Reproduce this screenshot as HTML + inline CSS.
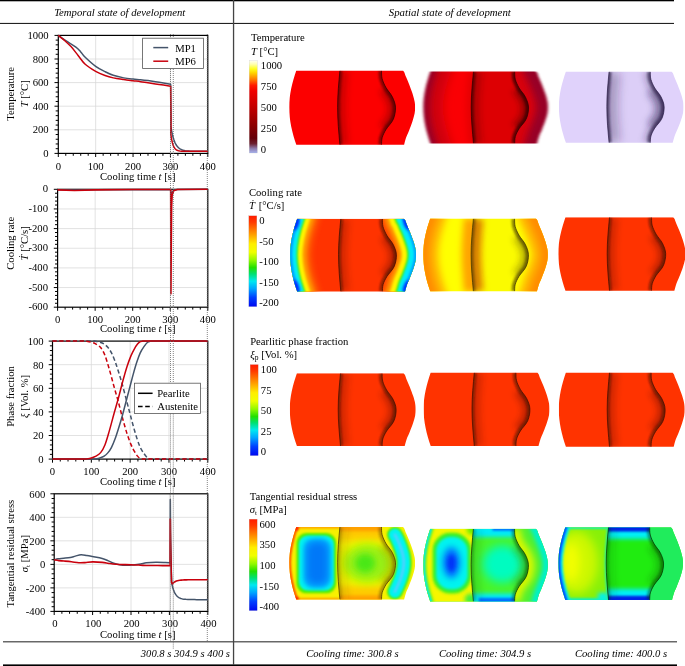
<!DOCTYPE html>
<html lang="en"><head><meta charset="utf-8"><title>State of development</title>
<style>
html,body{margin:0;padding:0;background:#fff;}
svg{display:block;}
text{font-family:"Liberation Serif","DejaVu Serif",serif;fill:#000;}
</style></head><body>
<svg width="685" height="666" viewBox="0 0 685 666">
<rect width="685" height="666" fill="#fff"/>
<rect x="0" y="0" width="674" height="1.3" fill="#000"/>
<rect x="0" y="22.9" width="674" height="1.1" fill="#222"/>
<rect x="3" y="641.2" width="674" height="1.2" fill="#444"/>
<rect x="3" y="664.4" width="674" height="1.6" fill="#000"/>
<rect x="232.9" y="0" width="1.3" height="665" fill="#444"/>
<text x="119.7" y="16.3" text-anchor="middle" font-style="italic" font-size="10.7">Temporal state of development</text>
<text x="449.8" y="16" text-anchor="middle" font-style="italic" font-size="10.8">Spatial state of development</text>
<text x="140.8" y="656.8" font-style="italic" font-size="10.6" xml:space="preserve">300.8 s 304.9 s 400 s</text>
<text x="306.2" y="657" font-style="italic" font-size="10.67">Cooling time: 300.8 s</text>
<text x="438.9" y="657" font-style="italic" font-size="10.67">Cooling time: 304.9 s</text>
<text x="574.9" y="657" font-style="italic" font-size="10.67">Cooling time: 400.0 s</text>
<path d="M95.67 35.4V153.4M133.05 35.4V153.4M170.43 35.4V153.4M58.3 129.8H207.8M58.3 106.2H207.8M58.3 82.6H207.8M58.3 59H207.8" stroke="#d8d8d8" stroke-width="0.75" fill="none"/>
<path d="M58.3 153.4v3.6M65.77 153.4v2.4M73.25 153.4v2.4M80.72 153.4v2.4M88.2 153.4v2.4M95.67 153.4v3.6M103.15 153.4v2.4M110.62 153.4v2.4M118.1 153.4v2.4M125.58 153.4v2.4M133.05 153.4v3.6M140.53 153.4v2.4M148 153.4v2.4M155.47 153.4v2.4M162.95 153.4v2.4M170.43 153.4v3.6M177.9 153.4v2.4M185.38 153.4v2.4M192.85 153.4v2.4M200.32 153.4v2.4M207.8 153.4v3.6M58.3 153.4h-3.8M58.3 148.68h-2.6M58.3 143.96h-2.6M58.3 139.24h-2.6M58.3 134.52h-2.6M58.3 129.8h-3.8M58.3 125.08h-2.6M58.3 120.36h-2.6M58.3 115.64h-2.6M58.3 110.92h-2.6M58.3 106.2h-3.8M58.3 101.48h-2.6M58.3 96.76h-2.6M58.3 92.04h-2.6M58.3 87.32h-2.6M58.3 82.6h-3.8M58.3 77.88h-2.6M58.3 73.16h-2.6M58.3 68.44h-2.6M58.3 63.72h-2.6M58.3 59h-3.8M58.3 54.28h-2.6M58.3 49.56h-2.6M58.3 44.84h-2.6M58.3 40.12h-2.6M58.3 35.4h-3.8" stroke="#000" stroke-width="1" fill="none"/>
<rect x="58.3" y="35.4" width="149.5" height="118" fill="none" stroke="#000" stroke-width="1.2"/>
<text x="58.3" y="169.7" text-anchor="middle" font-size="10.67">0</text>
<text x="95.67" y="169.7" text-anchor="middle" font-size="10.67">100</text>
<text x="133.05" y="169.7" text-anchor="middle" font-size="10.67">200</text>
<text x="170.43" y="169.7" text-anchor="middle" font-size="10.67">300</text>
<text x="207.8" y="169.7" text-anchor="middle" font-size="10.67">400</text>
<text x="48.7" y="156.9" text-anchor="end" font-size="10.67">0</text>
<text x="48.7" y="133.3" text-anchor="end" font-size="10.67">200</text>
<text x="48.7" y="109.7" text-anchor="end" font-size="10.67">400</text>
<text x="48.7" y="86.1" text-anchor="end" font-size="10.67">600</text>
<text x="48.7" y="62.5" text-anchor="end" font-size="10.67">800</text>
<text x="48.7" y="38.9" text-anchor="end" font-size="10.67">1000</text>
<text x="100" y="179.8" font-size="10.67">Cooling time <tspan font-style="italic">t</tspan> [s]</text>
<text transform="translate(14.2 93.8) rotate(-90)" text-anchor="middle" font-size="10.67">Temperature</text>
<text transform="translate(27.7 93.8) rotate(-90)" text-anchor="middle" font-size="10.67"><tspan font-style="italic">T</tspan> [°C]</text>
<path d="M58.3 35.4C59.55 36.29 62.85 38.74 65.77 40.71C68.7 42.68 73.37 45.33 75.87 47.2C78.36 49.07 79.17 50.25 80.72 51.92C82.28 53.59 82.72 54.83 85.21 57.23C87.7 59.63 92.37 63.92 95.67 66.32C98.98 68.72 102.09 70.13 105.02 71.63C107.95 73.12 110.13 74.24 113.24 75.28C116.36 76.33 120.4 77.25 123.71 77.88C127.01 78.51 130.25 78.77 133.05 79.06C135.85 79.36 138.03 79.39 140.53 79.65C143.02 79.91 144.89 80.14 148 80.59C151.11 81.05 155.46 81.75 159.21 82.36C162.97 82.97 168.65 83.94 170.54 84.25L170.65 84.25L170.76 96.17L170.99 118.59L170.72 125.67L170.79 126.09L170.98 127.3L171.3 129.18L171.75 131.58L172.33 134.28L173.04 137.09L173.88 139.81L174.84 142.31L175.94 144.49L177.16 146.31L178.51 147.76L179.99 148.86L181.6 149.67L183.34 150.25L185.21 150.64L187.2 150.89L189.33 151.05L191.58 151.15L193.96 151.21L196.47 151.24L199.11 151.26L201.88 151.27L204.77 151.27L207.8 151.27" stroke="#44546a" stroke-width="1.5" fill="none" stroke-linejoin="round"/>
<path d="M58.3 35.4C59.23 36.15 61.79 38.02 63.91 39.88C66.02 41.75 68.64 44.01 71.01 46.61C73.37 49.21 75.74 52.51 78.11 55.46C80.48 58.41 82.28 61.66 85.21 64.31C88.14 66.97 92.37 69.52 95.67 71.39C98.98 73.26 102.09 74.44 105.02 75.52C107.95 76.6 110.13 77.21 113.24 77.88C116.36 78.55 120.4 79.06 123.71 79.53C127.01 80 130.25 80.36 133.05 80.71C135.85 81.07 138.03 81.3 140.53 81.66C143.02 82.01 144.89 82.36 148 82.84C151.11 83.31 155.46 83.94 159.21 84.49C162.97 85.04 168.65 85.86 170.54 86.14L170.65 86.14L170.76 103.84L170.99 126.26L170.72 133.34L170.79 133.85L170.98 135.29L171.3 137.42L171.75 139.94L172.33 142.52L173.04 144.89L173.88 146.88L174.84 148.42L175.94 149.52L177.16 150.26L178.51 150.72L179.99 150.99L181.6 151.14L183.34 151.21L185.21 151.25L187.2 151.26L189.33 151.27L191.58 151.27L193.96 151.28L196.47 151.28L199.11 151.28L201.88 151.28L204.77 151.28L207.8 151.28" stroke="#c9000c" stroke-width="1.5" fill="none" stroke-linejoin="round"/>
<rect x="142.6" y="38.2" width="60.8" height="30.3" fill="#fff" stroke="#555" stroke-width="0.8"/>
<path d="M153.3 47.6H168.2" stroke="#44546a" stroke-width="1.5"/>
<path d="M153.3 61.2H168.2" stroke="#c9000c" stroke-width="1.5"/>
<text x="175.2" y="51.6" font-size="10.67">MP1</text>
<text x="175.2" y="64.8" font-size="10.67">MP6</text>
<path d="M95.15 189.3V307.2M132.7 189.3V307.2M170.25 189.3V307.2M57.6 287.55H207.8M57.6 267.9H207.8M57.6 248.25H207.8M57.6 228.6H207.8M57.6 208.95H207.8" stroke="#d8d8d8" stroke-width="0.75" fill="none"/>
<path d="M57.6 307.2v3.6M65.11 307.2v2.4M72.62 307.2v2.4M80.13 307.2v2.4M87.64 307.2v2.4M95.15 307.2v3.6M102.66 307.2v2.4M110.17 307.2v2.4M117.68 307.2v2.4M125.19 307.2v2.4M132.7 307.2v3.6M140.21 307.2v2.4M147.72 307.2v2.4M155.23 307.2v2.4M162.74 307.2v2.4M170.25 307.2v3.6M177.76 307.2v2.4M185.27 307.2v2.4M192.78 307.2v2.4M200.29 307.2v2.4M207.8 307.2v3.6M57.6 307.2h-3.8M57.6 303.27h-2.6M57.6 299.34h-2.6M57.6 295.41h-2.6M57.6 291.48h-2.6M57.6 287.55h-3.8M57.6 283.62h-2.6M57.6 279.69h-2.6M57.6 275.76h-2.6M57.6 271.83h-2.6M57.6 267.9h-3.8M57.6 263.97h-2.6M57.6 260.04h-2.6M57.6 256.11h-2.6M57.6 252.18h-2.6M57.6 248.25h-3.8M57.6 244.32h-2.6M57.6 240.39h-2.6M57.6 236.46h-2.6M57.6 232.53h-2.6M57.6 228.6h-3.8M57.6 224.67h-2.6M57.6 220.74h-2.6M57.6 216.81h-2.6M57.6 212.88h-2.6M57.6 208.95h-3.8M57.6 205.02h-2.6M57.6 201.09h-2.6M57.6 197.16h-2.6M57.6 193.23h-2.6M57.6 189.3h-3.8" stroke="#000" stroke-width="1" fill="none"/>
<rect x="57.6" y="189.3" width="150.2" height="117.9" fill="none" stroke="#000" stroke-width="1.2"/>
<text x="57.6" y="322.9" text-anchor="middle" font-size="10.67">0</text>
<text x="95.15" y="322.9" text-anchor="middle" font-size="10.67">100</text>
<text x="132.7" y="322.9" text-anchor="middle" font-size="10.67">200</text>
<text x="170.25" y="322.9" text-anchor="middle" font-size="10.67">300</text>
<text x="207.8" y="322.9" text-anchor="middle" font-size="10.67">400</text>
<text x="48" y="310.3" text-anchor="end" font-size="10.67">-600</text>
<text x="48" y="290.65" text-anchor="end" font-size="10.67">-500</text>
<text x="48" y="271" text-anchor="end" font-size="10.67">-400</text>
<text x="48" y="251.35" text-anchor="end" font-size="10.67">-300</text>
<text x="48" y="231.7" text-anchor="end" font-size="10.67">-200</text>
<text x="48" y="212.05" text-anchor="end" font-size="10.67">-100</text>
<text x="48" y="192.4" text-anchor="end" font-size="10.67">0</text>
<text x="100" y="332.3" font-size="10.67">Cooling time <tspan font-style="italic">t</tspan> [s]</text>
<text transform="translate(14.2 243.3) rotate(-90)" text-anchor="middle" font-size="10.67">Cooling rate</text>
<text transform="translate(27.7 243.3) rotate(-90)" text-anchor="middle" font-size="10.67"><tspan font-style="italic">Ṫ</tspan> [°C/s]</text>
<path d="M57.6 189.69L76.38 190.09L95.15 189.69L170.7 189.5L170.85 212.88L171.08 201.09L171.75 192.84L173.63 190.09L177.76 189.5L207.8 189.3" stroke="#44546a" stroke-width="1.5" fill="none" stroke-linejoin="round"/>
<path d="M57.6 189.89L74.5 190.48L95.15 189.89L132.7 189.5L170.7 189.5L170.93 293.84L171.23 248.25L171.6 206.99L172.13 195.2L173.63 190.87L177.38 189.5L207.8 189.3" stroke="#c9000c" stroke-width="1.6" fill="none" stroke-linejoin="round"/>
<path d="M91.33 341.1V459.1M130.15 341.1V459.1M168.98 341.1V459.1M52.5 435.5H207.8M52.5 411.9H207.8M52.5 388.3H207.8M52.5 364.7H207.8" stroke="#d8d8d8" stroke-width="0.75" fill="none"/>
<path d="M52.5 459.1v3.6M60.27 459.1v2.4M68.03 459.1v2.4M75.8 459.1v2.4M83.56 459.1v2.4M91.33 459.1v3.6M99.09 459.1v2.4M106.86 459.1v2.4M114.62 459.1v2.4M122.39 459.1v2.4M130.15 459.1v3.6M137.92 459.1v2.4M145.68 459.1v2.4M153.44 459.1v2.4M161.21 459.1v2.4M168.98 459.1v3.6M176.74 459.1v2.4M184.5 459.1v2.4M192.27 459.1v2.4M200.03 459.1v2.4M207.8 459.1v3.6M52.5 459.1h-3.8M52.5 454.38h-2.6M52.5 449.66h-2.6M52.5 444.94h-2.6M52.5 440.22h-2.6M52.5 435.5h-3.8M52.5 430.78h-2.6M52.5 426.06h-2.6M52.5 421.34h-2.6M52.5 416.62h-2.6M52.5 411.9h-3.8M52.5 407.18h-2.6M52.5 402.46h-2.6M52.5 397.74h-2.6M52.5 393.02h-2.6M52.5 388.3h-3.8M52.5 383.58h-2.6M52.5 378.86h-2.6M52.5 374.14h-2.6M52.5 369.42h-2.6M52.5 364.7h-3.8M52.5 359.98h-2.6M52.5 355.26h-2.6M52.5 350.54h-2.6M52.5 345.82h-2.6M52.5 341.1h-3.8" stroke="#000" stroke-width="1" fill="none"/>
<rect x="52.5" y="341.1" width="155.3" height="118" fill="none" stroke="#000" stroke-width="1.2"/>
<text x="52.5" y="475.2" text-anchor="middle" font-size="10.67">0</text>
<text x="91.33" y="475.2" text-anchor="middle" font-size="10.67">100</text>
<text x="130.15" y="475.2" text-anchor="middle" font-size="10.67">200</text>
<text x="168.98" y="475.2" text-anchor="middle" font-size="10.67">300</text>
<text x="207.8" y="475.2" text-anchor="middle" font-size="10.67">400</text>
<text x="43.7" y="462.9" text-anchor="end" font-size="10.67">0</text>
<text x="43.7" y="439.3" text-anchor="end" font-size="10.67">20</text>
<text x="43.7" y="415.7" text-anchor="end" font-size="10.67">40</text>
<text x="43.7" y="392.1" text-anchor="end" font-size="10.67">60</text>
<text x="43.7" y="368.5" text-anchor="end" font-size="10.67">80</text>
<text x="43.7" y="344.9" text-anchor="end" font-size="10.67">100</text>
<text x="100" y="485.2" font-size="10.67">Cooling time <tspan font-style="italic">t</tspan> [s]</text>
<text transform="translate(14.2 396.5) rotate(-90)" text-anchor="middle" font-size="10.67">Phase fraction</text>
<text transform="translate(27.7 396.5) rotate(-90)" text-anchor="middle" font-size="10.67"><tspan font-style="italic">ξ</tspan> [Vol. %]</text>
<path d="M52.5 341.1L94.43 341.1C95.34 341.3 98.25 341.79 99.87 342.28C101.48 342.77 102.78 343.17 104.14 344.05C105.5 344.94 106.79 346.12 108.02 347.59C109.25 349.07 110.35 350.64 111.51 352.9C112.68 355.16 113.84 358.01 115.01 361.16C116.17 364.31 117.27 367.85 118.5 371.78C119.73 375.71 120.96 379.65 122.39 384.76C123.81 389.87 125.75 397.54 127.04 402.46C128.34 407.38 129.11 410.33 130.15 414.26C131.19 418.19 132.16 422.13 133.26 426.06C134.36 429.99 135.59 434.32 136.75 437.86C137.91 441.4 139.02 444.64 140.24 447.3C141.47 449.96 142.9 452.02 144.13 453.79C145.36 455.56 146.52 457.04 147.62 457.92C148.72 458.81 150.21 458.9 150.73 459.1L207.8 459.1" stroke="#44546a" stroke-width="1.5" fill="none" stroke-linejoin="round" stroke-dasharray="4.2 2.6"/>
<path d="M52.5 341.1L85.5 341.1C86.47 341.3 89.58 341.79 91.33 342.28C93.07 342.77 94.43 343.17 95.98 344.05C97.54 344.94 99.15 345.72 100.64 347.59C102.13 349.46 103.49 351.72 104.91 355.26C106.34 358.8 107.7 363.72 109.18 368.83C110.67 373.94 112.29 380.34 113.84 385.94C115.4 391.55 117.01 396.95 118.5 402.46C119.99 407.97 121.35 413.77 122.77 418.98C124.2 424.19 125.69 429.5 127.04 433.73C128.4 437.96 129.7 441.4 130.93 444.35C132.16 447.3 133.32 449.46 134.42 451.43C135.52 453.4 136.56 454.95 137.53 456.15C138.5 457.35 139.4 458.14 140.24 458.63C141.09 459.12 142.19 459.02 142.57 459.1L207.8 459.1" stroke="#c9000c" stroke-width="1.5" fill="none" stroke-linejoin="round" stroke-dasharray="4.2 2.6"/>
<path d="M52.5 459.1L94.43 459.1C95.34 458.9 98.25 458.41 99.87 457.92C101.48 457.43 102.78 457.04 104.14 456.15C105.5 455.27 106.79 454.09 108.02 452.61C109.25 451.13 110.35 449.56 111.51 447.3C112.68 445.04 113.84 442.19 115.01 439.04C116.17 435.89 117.27 432.35 118.5 428.42C119.73 424.49 120.96 420.55 122.39 415.44C123.81 410.33 125.75 402.66 127.04 397.74C128.34 392.82 129.11 389.87 130.15 385.94C131.19 382.01 132.16 378.07 133.26 374.14C134.36 370.21 135.59 365.88 136.75 362.34C137.91 358.8 139.02 355.56 140.24 352.9C141.47 350.25 142.9 348.18 144.13 346.41C145.36 344.64 146.52 343.17 147.62 342.28C148.72 341.4 150.21 341.3 150.73 341.1L207.8 341.1" stroke="#44546a" stroke-width="1.5" fill="none" stroke-linejoin="round"/>
<path d="M52.5 459.1L85.5 459.1C86.47 458.9 89.58 458.41 91.33 457.92C93.07 457.43 94.43 457.04 95.98 456.15C97.54 455.27 99.15 454.48 100.64 452.61C102.13 450.74 103.49 448.48 104.91 444.94C106.34 441.4 107.7 436.48 109.18 431.37C110.67 426.26 112.29 419.87 113.84 414.26C115.4 408.65 117.01 403.25 118.5 397.74C119.99 392.23 121.35 386.43 122.77 381.22C124.2 376.01 125.69 370.7 127.04 366.47C128.4 362.24 129.7 358.8 130.93 355.85C132.16 352.9 133.32 350.74 134.42 348.77C135.52 346.8 136.56 345.25 137.53 344.05C138.5 342.85 139.4 342.06 140.24 341.57C141.09 341.08 142.19 341.18 142.57 341.1L207.8 341.1" stroke="#c9000c" stroke-width="1.5" fill="none" stroke-linejoin="round"/>
<rect x="134.4" y="383.2" width="66.2" height="30.2" fill="#fff" stroke="#555" stroke-width="0.8"/>
<path d="M138 393.3H152.6" stroke="#000" stroke-width="1.5"/>
<path d="M138 406.6H152.6" stroke="#000" stroke-width="1.5" stroke-dasharray="4.6 2.6"/>
<text x="157.2" y="396.6" font-size="10.67">Pearlite</text>
<text x="157.2" y="409.9" font-size="10.67">Austenite</text>
<path d="M92.6 493.8V611.4M131 493.8V611.4M169.4 493.8V611.4M54.2 587.88H207.8M54.2 564.36H207.8M54.2 540.84H207.8M54.2 517.32H207.8" stroke="#d8d8d8" stroke-width="0.75" fill="none"/>
<path d="M54.2 611.4v3.6M61.88 611.4v2.4M69.56 611.4v2.4M77.24 611.4v2.4M84.92 611.4v2.4M92.6 611.4v3.6M100.28 611.4v2.4M107.96 611.4v2.4M115.64 611.4v2.4M123.32 611.4v2.4M131 611.4v3.6M138.68 611.4v2.4M146.36 611.4v2.4M154.04 611.4v2.4M161.72 611.4v2.4M169.4 611.4v3.6M177.08 611.4v2.4M184.76 611.4v2.4M192.44 611.4v2.4M200.12 611.4v2.4M207.8 611.4v3.6M54.2 611.4h-3.8M54.2 606.7h-2.6M54.2 601.99h-2.6M54.2 597.29h-2.6M54.2 592.58h-2.6M54.2 587.88h-3.8M54.2 583.18h-2.6M54.2 578.47h-2.6M54.2 573.77h-2.6M54.2 569.06h-2.6M54.2 564.36h-3.8M54.2 559.66h-2.6M54.2 554.95h-2.6M54.2 550.25h-2.6M54.2 545.54h-2.6M54.2 540.84h-3.8M54.2 536.14h-2.6M54.2 531.43h-2.6M54.2 526.73h-2.6M54.2 522.02h-2.6M54.2 517.32h-3.8M54.2 512.62h-2.6M54.2 507.91h-2.6M54.2 503.21h-2.6M54.2 498.5h-2.6M54.2 493.8h-3.8" stroke="#000" stroke-width="1" fill="none"/>
<rect x="54.2" y="493.8" width="153.6" height="117.6" fill="none" stroke="#000" stroke-width="1.2"/>
<text x="54.9" y="627.3" text-anchor="middle" font-size="10.67">0</text>
<text x="93.3" y="627.3" text-anchor="middle" font-size="10.67">100</text>
<text x="131.7" y="627.3" text-anchor="middle" font-size="10.67">200</text>
<text x="170.1" y="627.3" text-anchor="middle" font-size="10.67">300</text>
<text x="208.5" y="627.3" text-anchor="middle" font-size="10.67">400</text>
<text x="45.3" y="615.3" text-anchor="end" font-size="10.67">-400</text>
<text x="45.3" y="591.78" text-anchor="end" font-size="10.67">-200</text>
<text x="45.3" y="568.26" text-anchor="end" font-size="10.67">0</text>
<text x="45.3" y="544.74" text-anchor="end" font-size="10.67">200</text>
<text x="45.3" y="521.22" text-anchor="end" font-size="10.67">400</text>
<text x="45.3" y="497.7" text-anchor="end" font-size="10.67">600</text>
<text x="100" y="637.9" font-size="10.67">Cooling time <tspan font-style="italic">t</tspan> [s]</text>
<text transform="translate(14.2 553.6) rotate(-90)" text-anchor="middle" font-size="10.67">Tangential residual stress</text>
<text transform="translate(27.7 553.6) rotate(-90)" text-anchor="middle" font-size="10.67"><tspan font-style="italic">σ</tspan><tspan font-size="7" dy="2">t</tspan><tspan dy="-2"> [MPa]</tspan></text>
<path d="M54.2 559.89C54.84 559.7 56.44 558.99 58.04 558.72C59.64 558.44 61.75 558.44 63.8 558.24C65.85 558.05 68.41 557.89 70.33 557.54C72.25 557.19 73.53 556.6 75.32 556.13C77.11 555.66 79.16 554.81 81.08 554.72C83 554.62 84.92 555.23 86.84 555.54C88.76 555.85 90.04 556.11 92.6 556.6C95.16 557.09 99.64 557.81 102.2 558.48C104.76 559.15 106.17 559.85 107.96 560.6C109.75 561.34 111.03 562.26 112.95 562.95C114.87 563.63 117.11 564.32 119.48 564.71C121.85 565.1 124.92 565.26 127.16 565.3C129.4 565.34 130.68 565.16 132.92 564.95C135.16 564.73 138.36 564.36 140.6 564.01C142.84 563.65 143.8 563.13 146.36 562.83C148.92 562.54 152.76 562.3 155.96 562.24C159.16 562.18 163.19 562.4 165.56 562.48C167.93 562.56 169.4 562.67 170.17 562.71L170.32 499.44L170.55 531.9L171.32 571.42L171.82 583.76L171.88 584.05L172.07 584.87L172.38 586.15L172.82 587.75L173.38 589.54L174.07 591.36L174.88 593.09L175.82 594.65L176.88 595.97L178.07 597.04L179.38 597.86L180.81 598.46L182.38 598.89L184.06 599.18L185.87 599.37L187.81 599.48L189.87 599.55L192.06 599.59L194.37 599.62L196.81 599.63L199.37 599.63L202.05 599.64L204.86 599.64L207.8 599.64" stroke="#44546a" stroke-width="1.5" fill="none" stroke-linejoin="round"/>
<path d="M54.2 559.89C54.97 560.01 57.14 560.4 58.81 560.6C60.47 560.79 62.07 560.87 64.18 561.07C66.3 561.26 69.05 561.5 71.48 561.77C73.91 562.05 76.54 562.58 78.78 562.71C81.02 562.85 82.62 562.73 84.92 562.6C87.22 562.46 89.72 561.93 92.6 561.89C95.48 561.85 99.64 562.15 102.2 562.36C104.76 562.58 106.17 562.91 107.96 563.18C109.75 563.46 111.03 563.79 112.95 564.01C114.87 564.22 116.47 564.36 119.48 564.48C122.49 564.6 127.48 564.6 131 564.71C134.52 564.83 138.04 565.05 140.6 565.18C143.16 565.32 143.48 565.48 146.36 565.54C149.24 565.59 153.91 565.52 157.88 565.54C161.85 565.56 168.12 565.63 170.17 565.65L170.32 519.08L170.55 541.72L171.44 582L172.4 583.88L172.46 583.81L172.64 583.6L172.95 583.27L173.38 582.86L173.93 582.4L174.61 581.94L175.41 581.49L176.33 581.08L177.37 580.74L178.54 580.46L179.83 580.24L181.25 580.08L182.78 579.97L184.44 579.89L186.23 579.84L188.13 579.81L190.16 579.79L192.31 579.78L194.58 579.77L196.98 579.77L199.5 579.77L202.15 579.77L204.91 579.77L207.8 579.77" stroke="#c9000c" stroke-width="1.6" fill="none" stroke-linejoin="round"/>
<path d="M170.5 34V38M170.5 69V383M170.5 413.6V641.5M207.3 34V641.5M173.3 34V38M173.3 69V383M173.3 413.6V649" stroke="#666" stroke-width="0.8" stroke-dasharray="1 1" fill="none"/>
<defs>
<linearGradient id="gRain" x1="0" y1="0" x2="0" y2="1"><stop offset="0" stop-color="#ff1c00"/><stop offset="0.07" stop-color="#ff3a00"/><stop offset="0.2" stop-color="#ff9a00"/><stop offset="0.31" stop-color="#ffee00"/><stop offset="0.4" stop-color="#f0ff00"/><stop offset="0.49" stop-color="#90f800"/><stop offset="0.57" stop-color="#22e000"/><stop offset="0.64" stop-color="#00e070"/><stop offset="0.72" stop-color="#00e8f0"/><stop offset="0.8" stop-color="#00a8ff"/><stop offset="0.9" stop-color="#0040ff"/><stop offset="1" stop-color="#0008f0"/></linearGradient>
<linearGradient id="gHot" x1="0" y1="0" x2="0" y2="1"><stop offset="0" stop-color="#fffff4"/><stop offset="0.04" stop-color="#ffffb0"/><stop offset="0.09" stop-color="#ffff20"/><stop offset="0.13" stop-color="#ffd800"/><stop offset="0.2" stop-color="#ff8000"/><stop offset="0.27" stop-color="#ff1800"/><stop offset="0.33" stop-color="#f00000"/><stop offset="0.5" stop-color="#c40000"/><stop offset="0.7" stop-color="#8c0000"/><stop offset="0.84" stop-color="#640008"/><stop offset="0.9" stop-color="#6c2030"/><stop offset="0.95" stop-color="#8c78a8"/><stop offset="1" stop-color="#a8b4f0"/></linearGradient>
</defs>
<text x="251" y="41.4" font-size="10.67">Temperature</text>
<text x="251" y="54.8" font-size="10.67"><tspan font-style="italic">T</tspan> [°C]</text>
<rect x="249.3" y="60.5" width="8" height="92.5" fill="url(#gHot)" stroke="#999" stroke-opacity="0.5" stroke-width="0.3"/>
<text x="260.8" y="69.1" font-size="10.67">1000</text>
<text x="260.8" y="90.02" font-size="10.67">750</text>
<text x="260.8" y="110.95" font-size="10.67">500</text>
<text x="260.8" y="131.88" font-size="10.67">250</text>
<text x="260.8" y="152.8" font-size="10.67">0</text>
<text x="248.9" y="195.9" font-size="10.67">Cooling rate</text>
<text x="248.9" y="209.3" font-size="10.67"><tspan font-style="italic">Ṫ</tspan><tspan dx="1.3"> [°C/s]</tspan></text>
<rect x="248.8" y="215.8" width="8" height="90.8" fill="url(#gRain)" stroke="#999" stroke-opacity="0.5" stroke-width="0.3"/>
<text x="259.3" y="224.4" font-size="10.67">0</text>
<text x="259.3" y="244.9" font-size="10.67">-50</text>
<text x="259.3" y="265.4" font-size="10.67">-100</text>
<text x="259.3" y="285.9" font-size="10.67">-150</text>
<text x="259.3" y="306.4" font-size="10.67">-200</text>
<text x="250.2" y="344.9" font-size="10.67">Pearlitic phase fraction</text>
<text x="250.2" y="357.7" font-size="10.67"><tspan font-style="italic">ξ</tspan><tspan font-size="7.5" dy="2">p</tspan><tspan dy="-2"> [Vol. %]</tspan></text>
<rect x="250.2" y="364.6" width="8" height="91" fill="url(#gRain)" stroke="#999" stroke-opacity="0.5" stroke-width="0.3"/>
<text x="260.8" y="373.2" font-size="10.67">100</text>
<text x="260.8" y="393.75" font-size="10.67">75</text>
<text x="260.8" y="414.3" font-size="10.67">50</text>
<text x="260.8" y="434.85" font-size="10.67">25</text>
<text x="260.8" y="455.4" font-size="10.67">0</text>
<text x="249.7" y="499.5" font-size="10.67">Tangential residual stress</text>
<text x="249.7" y="512.7" font-size="10.67"><tspan font-style="italic">σ</tspan><tspan font-size="7" dy="2">t</tspan><tspan dy="-2"> [MPa]</tspan></text>
<rect x="249.2" y="519.2" width="8" height="91.4" fill="url(#gRain)" stroke="#999" stroke-opacity="0.5" stroke-width="0.3"/>
<text x="259.5" y="527.8" font-size="10.67">600</text>
<text x="259.5" y="548.45" font-size="10.67">350</text>
<text x="259.5" y="569.1" font-size="10.67">100</text>
<text x="259.5" y="589.75" font-size="10.67">-150</text>
<text x="259.5" y="610.4" font-size="10.67">-400</text>
<defs>
<clipPath id="cShape"><path d="M7.1 0H113.8L115.2 1.8C115.48 2.58 116.12 4.53 116.9 6.5C117.68 8.47 118.83 10.85 119.9 13.6C120.97 16.35 122.38 20.1 123.3 23C124.22 25.9 124.97 28.7 125.4 31C125.83 33.3 125.9 34.8 125.9 36.8C125.9 38.8 125.83 40.7 125.4 43C124.97 45.3 124.22 47.8 123.3 50.6C122.38 53.4 120.97 57.07 119.9 59.8C118.83 62.53 117.73 64.6 116.9 67C116.07 69.4 115.23 73 114.9 74.2H7.1C3 62 0 50 0 36.6C0 24 3 12 7.1 0Z"/></clipPath>
<filter id="bx" filterUnits="userSpaceOnUse" x="-30" y="-30" width="190" height="140"><feGaussianBlur stdDeviation="1.7 0"/></filter>
<mask id="mSoft" maskUnits="userSpaceOnUse" x="-10" y="-10" width="150" height="95"><path d="M7.1 0H113.8L115.2 1.8C115.48 2.58 116.12 4.53 116.9 6.5C117.68 8.47 118.83 10.85 119.9 13.6C120.97 16.35 122.38 20.1 123.3 23C124.22 25.9 124.97 28.7 125.4 31C125.83 33.3 125.9 34.8 125.9 36.8C125.9 38.8 125.83 40.7 125.4 43C124.97 45.3 124.22 47.8 123.3 50.6C122.38 53.4 120.97 57.07 119.9 59.8C118.83 62.53 117.73 64.6 116.9 67C116.07 69.4 115.23 73 114.9 74.2H7.1C3 62 0 50 0 36.6C0 24 3 12 7.1 0Z" fill="#fff" filter="url(#bx)"/></mask>
<clipPath id="cLeft"><path d="M-5 -5H50.7C49.6 12 48.4 24 48.4 36.6C48.4 50 49.6 62 50.7 74.2V80H-5Z"/></clipPath>
<clipPath id="cMid"><path d="M50.7 0C49.6 12 48.4 24 48.4 36.6C48.4 50 49.6 62 50.7 74.2L50.7 80H92.3V74.2C92.42 73 92.25 69.55 93 67C93.75 64.45 94.95 61.95 96.8 58.9C98.65 55.85 102.52 52.42 104.1 48.7C105.68 44.98 106.47 40.35 106.3 36.6C106.13 32.85 104.68 29.47 103.1 26.2C101.52 22.93 98.5 20.03 96.8 17C95.1 13.97 93.65 10.83 92.9 8C92.15 5.17 92.4 1.33 92.3 0V-5H50.7Z"/></clipPath>
<clipPath id="cRight"><path d="M92.3 0C92.4 1.33 92.15 5.17 92.9 8C93.65 10.83 95.1 13.97 96.8 17C98.5 20.03 101.52 22.93 103.1 26.2C104.68 29.47 106.13 32.85 106.3 36.6C106.47 40.35 105.68 44.98 104.1 48.7C102.52 52.42 98.65 55.85 96.8 58.9C94.95 61.95 93.75 64.45 93 67C92.25 69.55 92.42 73 92.3 74.2V80H135V-5H92.3Z"/></clipPath>
<filter id="b1" filterUnits="userSpaceOnUse" x="-30" y="-30" width="190" height="140"><feGaussianBlur stdDeviation="1"/></filter>
<filter id="b15" filterUnits="userSpaceOnUse" x="-30" y="-30" width="190" height="140"><feGaussianBlur stdDeviation="1.4"/></filter>
<filter id="b4" filterUnits="userSpaceOnUse" x="-30" y="-30" width="190" height="140"><feGaussianBlur stdDeviation="4"/></filter>
<filter id="b2" filterUnits="userSpaceOnUse" x="-30" y="-30" width="190" height="140"><feGaussianBlur stdDeviation="2"/></filter>
<filter id="b3" filterUnits="userSpaceOnUse" x="-30" y="-30" width="190" height="140"><feGaussianBlur stdDeviation="3"/></filter>
<filter id="b5" filterUnits="userSpaceOnUse" x="-30" y="-30" width="190" height="140"><feGaussianBlur stdDeviation="5"/></filter>
</defs>
<g transform="translate(289.2 70.6) scale(1 1)"><g clip-path="url(#cShape)"><rect x="-5" y="-5" width="140" height="90" fill="#fc0000"/><g clip-path="url(#cMid)"><path d="M50.7 0C49.6 12 48.4 24 48.4 36.6C48.4 50 49.6 62 50.7 74.2" stroke="#300000" stroke-opacity="0.216" stroke-width="17" fill="none" filter="url(#b3)"/><path d="M50.7 0C49.6 12 48.4 24 48.4 36.6C48.4 50 49.6 62 50.7 74.2" stroke="#300000" stroke-opacity="0.51" stroke-width="5" fill="none" filter="url(#b1)"/><path d="M96.8 17C97.85 18.53 101.52 22.93 103.1 26.2C104.68 29.47 106.13 32.85 106.3 36.6C106.47 40.35 105.68 44.98 104.1 48.7C102.52 52.42 98.02 57.2 96.8 58.9" stroke="#300000" stroke-opacity="0.33" stroke-width="15" fill="none" filter="url(#b3)"/><path d="M92.3 0C92.4 1.33 92.15 5.17 92.9 8C93.65 10.83 95.1 13.97 96.8 17C98.5 20.03 101.52 22.93 103.1 26.2C104.68 29.47 106.13 32.85 106.3 36.6C106.47 40.35 105.68 44.98 104.1 48.7C102.52 52.42 98.65 55.85 96.8 58.9C94.95 61.95 93.75 64.45 93 67C92.25 69.55 92.42 73 92.3 74.2" stroke="#300000" stroke-opacity="0.57" stroke-width="6" fill="none" filter="url(#b1)"/></g><path d="M50.7 0C49.6 12 48.4 24 48.4 36.6C48.4 50 49.6 62 50.7 74.2" stroke="#300000" stroke-opacity="0.8" stroke-width="0.9" fill="none"/><path d="M92.3 0C92.4 1.33 92.15 5.17 92.9 8C93.65 10.83 95.1 13.97 96.8 17C98.5 20.03 101.52 22.93 103.1 26.2C104.68 29.47 106.13 32.85 106.3 36.6C106.47 40.35 105.68 44.98 104.1 48.7C102.52 52.42 98.65 55.85 96.8 58.9C94.95 61.95 93.75 64.45 93 67C92.25 69.55 92.42 73 92.3 74.2" stroke="#300000" stroke-opacity="0.8" stroke-width="0.9" fill="none"/></g></g>
<g transform="translate(423.3 71.5) scale(0.99 0.97)"><g mask="url(#mSoft)"><rect x="-5" y="-5" width="140" height="90" fill="#fa0004"/><g clip-path="url(#cLeft)"><path d="M12 90L7.1 74.2C3 62 0 50 0 36.6C0 24 3 12 7.1 0L12 -16" stroke="#c00010" stroke-opacity="0.75" stroke-width="40" fill="none" filter="url(#b5)"/><path d="M12 90L7.1 74.2C3 62 0 50 0 36.6C0 24 3 12 7.1 0L12 -16" stroke="#980028" stroke-width="13" fill="none" filter="url(#b3)"/><path d="M50.7 0C49.6 12 48.4 24 48.4 36.6C48.4 50 49.6 62 50.7 74.2" stroke="#d00000" stroke-opacity="0.5" stroke-width="10" fill="none" filter="url(#b3)"/></g><g clip-path="url(#cRight)"><rect x="90" y="-5" width="50" height="90" fill="#b00018" fill-opacity="0.45"/><path d="M109 -14L113.8 0L115.2 1.8C115.48 2.58 116.12 4.53 116.9 6.5C117.68 8.47 118.83 10.85 119.9 13.6C120.97 16.35 122.38 20.1 123.3 23C124.22 25.9 124.97 28.7 125.4 31C125.83 33.3 125.9 34.8 125.9 36.8C125.9 38.8 125.83 40.7 125.4 43C124.97 45.3 124.22 47.8 123.3 50.6C122.38 53.4 120.97 57.07 119.9 59.8C118.83 62.53 117.73 64.6 116.9 67C116.07 69.4 115.23 73 114.9 74.2L110 88" stroke="#900028" stroke-opacity="0.9" stroke-width="24" fill="none" filter="url(#b4)"/></g><g clip-path="url(#cMid)"><rect x="40" y="-5" width="80" height="90" fill="#300000" fill-opacity="0.14"/><path d="M50.7 0C49.6 12 48.4 24 48.4 36.6C48.4 50 49.6 62 50.7 74.2" stroke="#300000" stroke-opacity="0.252" stroke-width="17" fill="none" filter="url(#b3)"/><path d="M50.7 0C49.6 12 48.4 24 48.4 36.6C48.4 50 49.6 62 50.7 74.2" stroke="#300000" stroke-opacity="0.595" stroke-width="5" fill="none" filter="url(#b1)"/><path d="M96.8 17C97.85 18.53 101.52 22.93 103.1 26.2C104.68 29.47 106.13 32.85 106.3 36.6C106.47 40.35 105.68 44.98 104.1 48.7C102.52 52.42 98.02 57.2 96.8 58.9" stroke="#300000" stroke-opacity="0.41250000000000003" stroke-width="15" fill="none" filter="url(#b3)"/><path d="M92.3 0C92.4 1.33 92.15 5.17 92.9 8C93.65 10.83 95.1 13.97 96.8 17C98.5 20.03 101.52 22.93 103.1 26.2C104.68 29.47 106.13 32.85 106.3 36.6C106.47 40.35 105.68 44.98 104.1 48.7C102.52 52.42 98.65 55.85 96.8 58.9C94.95 61.95 93.75 64.45 93 67C92.25 69.55 92.42 73 92.3 74.2" stroke="#300000" stroke-opacity="0.7124999999999999" stroke-width="6" fill="none" filter="url(#b1)"/></g><path d="M50.7 0C49.6 12 48.4 24 48.4 36.6C48.4 50 49.6 62 50.7 74.2" stroke="#300000" stroke-opacity="0.8" stroke-width="0.9" fill="none"/><path d="M92.3 0C92.4 1.33 92.15 5.17 92.9 8C93.65 10.83 95.1 13.97 96.8 17C98.5 20.03 101.52 22.93 103.1 26.2C104.68 29.47 106.13 32.85 106.3 36.6C106.47 40.35 105.68 44.98 104.1 48.7C102.52 52.42 98.65 55.85 96.8 58.9C94.95 61.95 93.75 64.45 93 67C92.25 69.55 92.42 73 92.3 74.2" stroke="#300000" stroke-opacity="0.8" stroke-width="0.9" fill="none"/></g></g>
<g transform="translate(558.9 71.6) scale(0.99 0.96)"><g clip-path="url(#cShape)"><rect x="-5" y="-5" width="140" height="90" fill="#e0d2fb"/><g clip-path="url(#cMid)"><rect x="40" y="-5" width="80" height="90" fill="#2c2048" fill-opacity="0.02"/><path d="M50.7 0C49.6 12 48.4 24 48.4 36.6C48.4 50 49.6 62 50.7 74.2" stroke="#2c2048" stroke-opacity="0.306" stroke-width="22.1" fill="none" filter="url(#b5)"/><path d="M50.7 0C49.6 12 48.4 24 48.4 36.6C48.4 50 49.6 62 50.7 74.2" stroke="#2c2048" stroke-opacity="0.7224999999999999" stroke-width="5" fill="none" filter="url(#b1)"/><path d="M96.8 17C97.85 18.53 101.52 22.93 103.1 26.2C104.68 29.47 106.13 32.85 106.3 36.6C106.47 40.35 105.68 44.98 104.1 48.7C102.52 52.42 98.02 57.2 96.8 58.9" stroke="#2c2048" stroke-opacity="0.385" stroke-width="19.5" fill="none" filter="url(#b4)"/><path d="M92.3 0C92.4 1.33 92.15 5.17 92.9 8C93.65 10.83 95.1 13.97 96.8 17C98.5 20.03 101.52 22.93 103.1 26.2C104.68 29.47 106.13 32.85 106.3 36.6C106.47 40.35 105.68 44.98 104.1 48.7C102.52 52.42 98.65 55.85 96.8 58.9C94.95 61.95 93.75 64.45 93 67C92.25 69.55 92.42 73 92.3 74.2" stroke="#2c2048" stroke-opacity="0.27999999999999997" stroke-width="12" fill="none" filter="url(#b3)"/><path d="M92.3 0C92.4 1.33 92.15 5.17 92.9 8C93.65 10.83 95.1 13.97 96.8 17C98.5 20.03 101.52 22.93 103.1 26.2C104.68 29.47 106.13 32.85 106.3 36.6C106.47 40.35 105.68 44.98 104.1 48.7C102.52 52.42 98.65 55.85 96.8 58.9C94.95 61.95 93.75 64.45 93 67C92.25 69.55 92.42 73 92.3 74.2" stroke="#2c2048" stroke-opacity="0.6649999999999999" stroke-width="6" fill="none" filter="url(#b1)"/></g><path d="M50.7 0C49.6 12 48.4 24 48.4 36.6C48.4 50 49.6 62 50.7 74.2" stroke="#2c2048" stroke-opacity="0.8" stroke-width="0.9" fill="none"/><path d="M92.3 0C92.4 1.33 92.15 5.17 92.9 8C93.65 10.83 95.1 13.97 96.8 17C98.5 20.03 101.52 22.93 103.1 26.2C104.68 29.47 106.13 32.85 106.3 36.6C106.47 40.35 105.68 44.98 104.1 48.7C102.52 52.42 98.65 55.85 96.8 58.9C94.95 61.95 93.75 64.45 93 67C92.25 69.55 92.42 73 92.3 74.2" stroke="#2c2048" stroke-opacity="0.8" stroke-width="0.9" fill="none"/></g></g>
<g transform="translate(290.1 218.8) scale(1 0.98)"><g clip-path="url(#cShape)"><rect x="-5" y="-5" width="140" height="90" fill="#ff3300"/><g clip-path="url(#cLeft)"><path d="M12 90L7.1 74.2C3 62 0 50 0 36.6C0 24 3 12 7.1 0L12 -16" stroke="#ff6a00" stroke-width="40" fill="none" filter="url(#b3)"/><path d="M12 90L7.1 74.2C3 62 0 50 0 36.6C0 24 3 12 7.1 0L12 -16" stroke="#ffa800" stroke-width="31" fill="none" filter="url(#b2)"/><path d="M12 90L7.1 74.2C3 62 0 50 0 36.6C0 24 3 12 7.1 0L12 -16" stroke="#fff400" stroke-width="24.4" fill="none" filter="url(#b1)"/><path d="M12 90L7.1 74.2C3 62 0 50 0 36.6C0 24 3 12 7.1 0L12 -16" stroke="#50f000" stroke-width="15.4" fill="none" filter="url(#b1)"/><path d="M12 90L7.1 74.2C3 62 0 50 0 36.6C0 24 3 12 7.1 0L12 -16" stroke="#00ecf8" stroke-width="12.8" fill="none" filter="url(#b1)"/><path d="M12 90L7.1 74.2C3 62 0 50 0 36.6C0 24 3 12 7.1 0L12 -16" stroke="#0098ff" stroke-width="4" fill="none" filter="url(#b1)"/><ellipse cx="5.6" cy="5" rx="3.2" ry="7.5" transform="rotate(18 5.6 5)" fill="#0028ff" filter="url(#b15)"/><ellipse cx="5.6" cy="69.2" rx="3.2" ry="7.5" transform="rotate(-18 5.6 69.2)" fill="#0028ff" filter="url(#b15)"/></g><g clip-path="url(#cRight)"><path d="M109 -14L113.8 0L115.2 1.8C115.48 2.58 116.12 4.53 116.9 6.5C117.68 8.47 118.83 10.85 119.9 13.6C120.97 16.35 122.38 20.1 123.3 23C124.22 25.9 124.97 28.7 125.4 31C125.83 33.3 125.9 34.8 125.9 36.8C125.9 38.8 125.83 40.7 125.4 43C124.97 45.3 124.22 47.8 123.3 50.6C122.38 53.4 120.97 57.07 119.9 59.8C118.83 62.53 117.73 64.6 116.9 67C116.07 69.4 115.23 73 114.9 74.2L110 88" stroke="#ff6a00" stroke-width="42" fill="none" filter="url(#b3)"/><path d="M109 -14L113.8 0L115.2 1.8C115.48 2.58 116.12 4.53 116.9 6.5C117.68 8.47 118.83 10.85 119.9 13.6C120.97 16.35 122.38 20.1 123.3 23C124.22 25.9 124.97 28.7 125.4 31C125.83 33.3 125.9 34.8 125.9 36.8C125.9 38.8 125.83 40.7 125.4 43C124.97 45.3 124.22 47.8 123.3 50.6C122.38 53.4 120.97 57.07 119.9 59.8C118.83 62.53 117.73 64.6 116.9 67C116.07 69.4 115.23 73 114.9 74.2L110 88" stroke="#ffa800" stroke-width="34" fill="none" filter="url(#b2)"/><path d="M109 -14L113.8 0L115.2 1.8C115.48 2.58 116.12 4.53 116.9 6.5C117.68 8.47 118.83 10.85 119.9 13.6C120.97 16.35 122.38 20.1 123.3 23C124.22 25.9 124.97 28.7 125.4 31C125.83 33.3 125.9 34.8 125.9 36.8C125.9 38.8 125.83 40.7 125.4 43C124.97 45.3 124.22 47.8 123.3 50.6C122.38 53.4 120.97 57.07 119.9 59.8C118.83 62.53 117.73 64.6 116.9 67C116.07 69.4 115.23 73 114.9 74.2L110 88" stroke="#fff400" stroke-width="28" fill="none" filter="url(#b1)"/><path d="M109 -14L113.8 0L115.2 1.8C115.48 2.58 116.12 4.53 116.9 6.5C117.68 8.47 118.83 10.85 119.9 13.6C120.97 16.35 122.38 20.1 123.3 23C124.22 25.9 124.97 28.7 125.4 31C125.83 33.3 125.9 34.8 125.9 36.8C125.9 38.8 125.83 40.7 125.4 43C124.97 45.3 124.22 47.8 123.3 50.6C122.38 53.4 120.97 57.07 119.9 59.8C118.83 62.53 117.73 64.6 116.9 67C116.07 69.4 115.23 73 114.9 74.2L110 88" stroke="#50f000" stroke-width="18" fill="none" filter="url(#b1)"/><path d="M109 -14L113.8 0L115.2 1.8C115.48 2.58 116.12 4.53 116.9 6.5C117.68 8.47 118.83 10.85 119.9 13.6C120.97 16.35 122.38 20.1 123.3 23C124.22 25.9 124.97 28.7 125.4 31C125.83 33.3 125.9 34.8 125.9 36.8C125.9 38.8 125.83 40.7 125.4 43C124.97 45.3 124.22 47.8 123.3 50.6C122.38 53.4 120.97 57.07 119.9 59.8C118.83 62.53 117.73 64.6 116.9 67C116.07 69.4 115.23 73 114.9 74.2L110 88" stroke="#00ecf8" stroke-width="14.8" fill="none" filter="url(#b1)"/><path d="M109 -14L113.8 0L115.2 1.8C115.48 2.58 116.12 4.53 116.9 6.5C117.68 8.47 118.83 10.85 119.9 13.6C120.97 16.35 122.38 20.1 123.3 23C124.22 25.9 124.97 28.7 125.4 31C125.83 33.3 125.9 34.8 125.9 36.8C125.9 38.8 125.83 40.7 125.4 43C124.97 45.3 124.22 47.8 123.3 50.6C122.38 53.4 120.97 57.07 119.9 59.8C118.83 62.53 117.73 64.6 116.9 67C116.07 69.4 115.23 73 114.9 74.2L110 88" stroke="#0098ff" stroke-width="3.6" fill="none" filter="url(#b1)"/><ellipse cx="116.6" cy="5" rx="2.8" ry="7" transform="rotate(-22 116.6 5)" fill="#0028ff" filter="url(#b15)"/><ellipse cx="116.4" cy="69.4" rx="2.8" ry="7" transform="rotate(22 116.4 69.4)" fill="#0028ff" filter="url(#b15)"/></g><g clip-path="url(#cMid)"><path d="M50.7 0C49.6 12 48.4 24 48.4 36.6C48.4 50 49.6 62 50.7 74.2" stroke="#401000" stroke-opacity="0.216" stroke-width="17" fill="none" filter="url(#b3)"/><path d="M50.7 0C49.6 12 48.4 24 48.4 36.6C48.4 50 49.6 62 50.7 74.2" stroke="#401000" stroke-opacity="0.51" stroke-width="5" fill="none" filter="url(#b1)"/><path d="M96.8 17C97.85 18.53 101.52 22.93 103.1 26.2C104.68 29.47 106.13 32.85 106.3 36.6C106.47 40.35 105.68 44.98 104.1 48.7C102.52 52.42 98.02 57.2 96.8 58.9" stroke="#401000" stroke-opacity="0.33" stroke-width="15" fill="none" filter="url(#b3)"/><path d="M92.3 0C92.4 1.33 92.15 5.17 92.9 8C93.65 10.83 95.1 13.97 96.8 17C98.5 20.03 101.52 22.93 103.1 26.2C104.68 29.47 106.13 32.85 106.3 36.6C106.47 40.35 105.68 44.98 104.1 48.7C102.52 52.42 98.65 55.85 96.8 58.9C94.95 61.95 93.75 64.45 93 67C92.25 69.55 92.42 73 92.3 74.2" stroke="#401000" stroke-opacity="0.57" stroke-width="6" fill="none" filter="url(#b1)"/></g><path d="M50.7 0C49.6 12 48.4 24 48.4 36.6C48.4 50 49.6 62 50.7 74.2" stroke="#401000" stroke-opacity="0.8" stroke-width="0.9" fill="none"/><path d="M92.3 0C92.4 1.33 92.15 5.17 92.9 8C93.65 10.83 95.1 13.97 96.8 17C98.5 20.03 101.52 22.93 103.1 26.2C104.68 29.47 106.13 32.85 106.3 36.6C106.47 40.35 105.68 44.98 104.1 48.7C102.52 52.42 98.65 55.85 96.8 58.9C94.95 61.95 93.75 64.45 93 67C92.25 69.55 92.42 73 92.3 74.2" stroke="#401000" stroke-opacity="0.8" stroke-width="0.9" fill="none"/></g></g>
<g transform="translate(423.2 218.6) scale(0.99 0.98)"><g clip-path="url(#cShape)"><rect x="-5" y="-5" width="140" height="90" fill="#ffff00"/><g clip-path="url(#cLeft)"><path d="M12 90L7.1 74.2C3 62 0 50 0 36.6C0 24 3 12 7.1 0L12 -16" stroke="#ffb400" stroke-width="30" fill="none" filter="url(#b4)"/><path d="M12 90L7.1 74.2C3 62 0 50 0 36.6C0 24 3 12 7.1 0L12 -16" stroke="#ff8c00" stroke-width="13" fill="none" filter="url(#b3)"/><path d="M50.7 0C49.6 12 48.4 24 48.4 36.6C48.4 50 49.6 62 50.7 74.2" stroke="#ffa400" stroke-width="19" fill="none" filter="url(#b3)"/></g><g clip-path="url(#cMid)"><path d="M50.7 0C49.6 12 48.4 24 48.4 36.6C48.4 50 49.6 62 50.7 74.2" stroke="#ff9400" stroke-width="20" fill="none" filter="url(#b3)"/></g><g clip-path="url(#cRight)"><path d="M109 -14L113.8 0L115.2 1.8C115.48 2.58 116.12 4.53 116.9 6.5C117.68 8.47 118.83 10.85 119.9 13.6C120.97 16.35 122.38 20.1 123.3 23C124.22 25.9 124.97 28.7 125.4 31C125.83 33.3 125.9 34.8 125.9 36.8C125.9 38.8 125.83 40.7 125.4 43C124.97 45.3 124.22 47.8 123.3 50.6C122.38 53.4 120.97 57.07 119.9 59.8C118.83 62.53 117.73 64.6 116.9 67C116.07 69.4 115.23 73 114.9 74.2L110 88" stroke="#ffb400" stroke-width="32" fill="none" filter="url(#b4)"/><path d="M109 -14L113.8 0L115.2 1.8C115.48 2.58 116.12 4.53 116.9 6.5C117.68 8.47 118.83 10.85 119.9 13.6C120.97 16.35 122.38 20.1 123.3 23C124.22 25.9 124.97 28.7 125.4 31C125.83 33.3 125.9 34.8 125.9 36.8C125.9 38.8 125.83 40.7 125.4 43C124.97 45.3 124.22 47.8 123.3 50.6C122.38 53.4 120.97 57.07 119.9 59.8C118.83 62.53 117.73 64.6 116.9 67C116.07 69.4 115.23 73 114.9 74.2L110 88" stroke="#ff8c00" stroke-width="15" fill="none" filter="url(#b3)"/></g><g clip-path="url(#cMid)"><rect x="40" y="-5" width="80" height="90" fill="#403000" fill-opacity="0.02"/><path d="M50.7 0C49.6 12 48.4 24 48.4 36.6C48.4 50 49.6 62 50.7 74.2" stroke="#403000" stroke-opacity="0.216" stroke-width="17" fill="none" filter="url(#b3)"/><path d="M50.7 0C49.6 12 48.4 24 48.4 36.6C48.4 50 49.6 62 50.7 74.2" stroke="#403000" stroke-opacity="0.51" stroke-width="5" fill="none" filter="url(#b1)"/><path d="M96.8 17C97.85 18.53 101.52 22.93 103.1 26.2C104.68 29.47 106.13 32.85 106.3 36.6C106.47 40.35 105.68 44.98 104.1 48.7C102.52 52.42 98.02 57.2 96.8 58.9" stroke="#403000" stroke-opacity="0.35750000000000004" stroke-width="15" fill="none" filter="url(#b3)"/><path d="M92.3 0C92.4 1.33 92.15 5.17 92.9 8C93.65 10.83 95.1 13.97 96.8 17C98.5 20.03 101.52 22.93 103.1 26.2C104.68 29.47 106.13 32.85 106.3 36.6C106.47 40.35 105.68 44.98 104.1 48.7C102.52 52.42 98.65 55.85 96.8 58.9C94.95 61.95 93.75 64.45 93 67C92.25 69.55 92.42 73 92.3 74.2" stroke="#403000" stroke-opacity="0.6174999999999999" stroke-width="6" fill="none" filter="url(#b1)"/></g><path d="M50.7 0C49.6 12 48.4 24 48.4 36.6C48.4 50 49.6 62 50.7 74.2" stroke="#403000" stroke-opacity="0.8" stroke-width="0.9" fill="none"/><path d="M92.3 0C92.4 1.33 92.15 5.17 92.9 8C93.65 10.83 95.1 13.97 96.8 17C98.5 20.03 101.52 22.93 103.1 26.2C104.68 29.47 106.13 32.85 106.3 36.6C106.47 40.35 105.68 44.98 104.1 48.7C102.52 52.42 98.65 55.85 96.8 58.9C94.95 61.95 93.75 64.45 93 67C92.25 69.55 92.42 73 92.3 74.2" stroke="#403000" stroke-opacity="0.8" stroke-width="0.9" fill="none"/></g></g>
<g transform="translate(558.3 217.3) scale(1.01 0.99)"><g clip-path="url(#cShape)"><rect x="-5" y="-5" width="140" height="90" fill="#ff3300"/><g clip-path="url(#cMid)"><path d="M50.7 0C49.6 12 48.4 24 48.4 36.6C48.4 50 49.6 62 50.7 74.2" stroke="#401000" stroke-opacity="0.216" stroke-width="17" fill="none" filter="url(#b3)"/><path d="M50.7 0C49.6 12 48.4 24 48.4 36.6C48.4 50 49.6 62 50.7 74.2" stroke="#401000" stroke-opacity="0.51" stroke-width="5" fill="none" filter="url(#b1)"/><path d="M96.8 17C97.85 18.53 101.52 22.93 103.1 26.2C104.68 29.47 106.13 32.85 106.3 36.6C106.47 40.35 105.68 44.98 104.1 48.7C102.52 52.42 98.02 57.2 96.8 58.9" stroke="#401000" stroke-opacity="0.33" stroke-width="15" fill="none" filter="url(#b3)"/><path d="M92.3 0C92.4 1.33 92.15 5.17 92.9 8C93.65 10.83 95.1 13.97 96.8 17C98.5 20.03 101.52 22.93 103.1 26.2C104.68 29.47 106.13 32.85 106.3 36.6C106.47 40.35 105.68 44.98 104.1 48.7C102.52 52.42 98.65 55.85 96.8 58.9C94.95 61.95 93.75 64.45 93 67C92.25 69.55 92.42 73 92.3 74.2" stroke="#401000" stroke-opacity="0.57" stroke-width="6" fill="none" filter="url(#b1)"/></g><path d="M50.7 0C49.6 12 48.4 24 48.4 36.6C48.4 50 49.6 62 50.7 74.2" stroke="#401000" stroke-opacity="0.8" stroke-width="0.9" fill="none"/><path d="M92.3 0C92.4 1.33 92.15 5.17 92.9 8C93.65 10.83 95.1 13.97 96.8 17C98.5 20.03 101.52 22.93 103.1 26.2C104.68 29.47 106.13 32.85 106.3 36.6C106.47 40.35 105.68 44.98 104.1 48.7C102.52 52.42 98.65 55.85 96.8 58.9C94.95 61.95 93.75 64.45 93 67C92.25 69.55 92.42 73 92.3 74.2" stroke="#401000" stroke-opacity="0.8" stroke-width="0.9" fill="none"/></g></g>
<g transform="translate(289.8 373.3) scale(1 0.98)"><g clip-path="url(#cShape)"><rect x="-5" y="-5" width="140" height="90" fill="#ff3300"/><g clip-path="url(#cMid)"><path d="M50.7 0C49.6 12 48.4 24 48.4 36.6C48.4 50 49.6 62 50.7 74.2" stroke="#401000" stroke-opacity="0.216" stroke-width="17" fill="none" filter="url(#b3)"/><path d="M50.7 0C49.6 12 48.4 24 48.4 36.6C48.4 50 49.6 62 50.7 74.2" stroke="#401000" stroke-opacity="0.51" stroke-width="5" fill="none" filter="url(#b1)"/><path d="M96.8 17C97.85 18.53 101.52 22.93 103.1 26.2C104.68 29.47 106.13 32.85 106.3 36.6C106.47 40.35 105.68 44.98 104.1 48.7C102.52 52.42 98.02 57.2 96.8 58.9" stroke="#401000" stroke-opacity="0.33" stroke-width="15" fill="none" filter="url(#b3)"/><path d="M92.3 0C92.4 1.33 92.15 5.17 92.9 8C93.65 10.83 95.1 13.97 96.8 17C98.5 20.03 101.52 22.93 103.1 26.2C104.68 29.47 106.13 32.85 106.3 36.6C106.47 40.35 105.68 44.98 104.1 48.7C102.52 52.42 98.65 55.85 96.8 58.9C94.95 61.95 93.75 64.45 93 67C92.25 69.55 92.42 73 92.3 74.2" stroke="#401000" stroke-opacity="0.57" stroke-width="6" fill="none" filter="url(#b1)"/></g><path d="M50.7 0C49.6 12 48.4 24 48.4 36.6C48.4 50 49.6 62 50.7 74.2" stroke="#401000" stroke-opacity="0.8" stroke-width="0.9" fill="none"/><path d="M92.3 0C92.4 1.33 92.15 5.17 92.9 8C93.65 10.83 95.1 13.97 96.8 17C98.5 20.03 101.52 22.93 103.1 26.2C104.68 29.47 106.13 32.85 106.3 36.6C106.47 40.35 105.68 44.98 104.1 48.7C102.52 52.42 98.65 55.85 96.8 58.9C94.95 61.95 93.75 64.45 93 67C92.25 69.55 92.42 73 92.3 74.2" stroke="#401000" stroke-opacity="0.8" stroke-width="0.9" fill="none"/></g></g>
<g transform="translate(423.6 372.6) scale(1 0.99)"><g clip-path="url(#cShape)"><rect x="-5" y="-5" width="140" height="90" fill="#ff3300"/><g clip-path="url(#cMid)"><path d="M50.7 0C49.6 12 48.4 24 48.4 36.6C48.4 50 49.6 62 50.7 74.2" stroke="#401000" stroke-opacity="0.216" stroke-width="17" fill="none" filter="url(#b3)"/><path d="M50.7 0C49.6 12 48.4 24 48.4 36.6C48.4 50 49.6 62 50.7 74.2" stroke="#401000" stroke-opacity="0.51" stroke-width="5" fill="none" filter="url(#b1)"/><path d="M96.8 17C97.85 18.53 101.52 22.93 103.1 26.2C104.68 29.47 106.13 32.85 106.3 36.6C106.47 40.35 105.68 44.98 104.1 48.7C102.52 52.42 98.02 57.2 96.8 58.9" stroke="#401000" stroke-opacity="0.33" stroke-width="15" fill="none" filter="url(#b3)"/><path d="M92.3 0C92.4 1.33 92.15 5.17 92.9 8C93.65 10.83 95.1 13.97 96.8 17C98.5 20.03 101.52 22.93 103.1 26.2C104.68 29.47 106.13 32.85 106.3 36.6C106.47 40.35 105.68 44.98 104.1 48.7C102.52 52.42 98.65 55.85 96.8 58.9C94.95 61.95 93.75 64.45 93 67C92.25 69.55 92.42 73 92.3 74.2" stroke="#401000" stroke-opacity="0.57" stroke-width="6" fill="none" filter="url(#b1)"/></g><path d="M50.7 0C49.6 12 48.4 24 48.4 36.6C48.4 50 49.6 62 50.7 74.2" stroke="#401000" stroke-opacity="0.8" stroke-width="0.9" fill="none"/><path d="M92.3 0C92.4 1.33 92.15 5.17 92.9 8C93.65 10.83 95.1 13.97 96.8 17C98.5 20.03 101.52 22.93 103.1 26.2C104.68 29.47 106.13 32.85 106.3 36.6C106.47 40.35 105.68 44.98 104.1 48.7C102.52 52.42 98.65 55.85 96.8 58.9C94.95 61.95 93.75 64.45 93 67C92.25 69.55 92.42 73 92.3 74.2" stroke="#401000" stroke-opacity="0.8" stroke-width="0.9" fill="none"/></g></g>
<g transform="translate(558.8 372.6) scale(1 1)"><g clip-path="url(#cShape)"><rect x="-5" y="-5" width="140" height="90" fill="#ff3300"/><g clip-path="url(#cMid)"><path d="M50.7 0C49.6 12 48.4 24 48.4 36.6C48.4 50 49.6 62 50.7 74.2" stroke="#401000" stroke-opacity="0.216" stroke-width="17" fill="none" filter="url(#b3)"/><path d="M50.7 0C49.6 12 48.4 24 48.4 36.6C48.4 50 49.6 62 50.7 74.2" stroke="#401000" stroke-opacity="0.51" stroke-width="5" fill="none" filter="url(#b1)"/><path d="M96.8 17C97.85 18.53 101.52 22.93 103.1 26.2C104.68 29.47 106.13 32.85 106.3 36.6C106.47 40.35 105.68 44.98 104.1 48.7C102.52 52.42 98.02 57.2 96.8 58.9" stroke="#401000" stroke-opacity="0.33" stroke-width="15" fill="none" filter="url(#b3)"/><path d="M92.3 0C92.4 1.33 92.15 5.17 92.9 8C93.65 10.83 95.1 13.97 96.8 17C98.5 20.03 101.52 22.93 103.1 26.2C104.68 29.47 106.13 32.85 106.3 36.6C106.47 40.35 105.68 44.98 104.1 48.7C102.52 52.42 98.65 55.85 96.8 58.9C94.95 61.95 93.75 64.45 93 67C92.25 69.55 92.42 73 92.3 74.2" stroke="#401000" stroke-opacity="0.57" stroke-width="6" fill="none" filter="url(#b1)"/></g><path d="M50.7 0C49.6 12 48.4 24 48.4 36.6C48.4 50 49.6 62 50.7 74.2" stroke="#401000" stroke-opacity="0.8" stroke-width="0.9" fill="none"/><path d="M92.3 0C92.4 1.33 92.15 5.17 92.9 8C93.65 10.83 95.1 13.97 96.8 17C98.5 20.03 101.52 22.93 103.1 26.2C104.68 29.47 106.13 32.85 106.3 36.6C106.47 40.35 105.68 44.98 104.1 48.7C102.52 52.42 98.65 55.85 96.8 58.9C94.95 61.95 93.75 64.45 93 67C92.25 69.55 92.42 73 92.3 74.2" stroke="#401000" stroke-opacity="0.8" stroke-width="0.9" fill="none"/></g></g>
<g transform="translate(289.2 526.9) scale(1 0.98)"><g clip-path="url(#cShape)"><rect x="-5" y="-5" width="140" height="90" fill="#f8f000"/><g clip-path="url(#cLeft)"><path d="M7.1 74.2C3 62 0 50 0 36.6C0 24 3 12 7.1 0H50.7" fill="none" stroke="#ffa000" stroke-width="3.4" filter="url(#b1)"/><path d="M50.7 74.2H7.1" fill="none" stroke="#ffa000" stroke-width="3.4" filter="url(#b1)"/><path d="M7.1 74.2C3 62 0 50 0 36.6C0 24 3 12 7.1 0" fill="none" stroke="#ff4000" stroke-width="2.4" filter="url(#b1)"/><circle cx="7" cy="1" r="2.6" fill="#ff2000" filter="url(#b1)"/><circle cx="7" cy="73.5" r="2.6" fill="#ff2000" filter="url(#b1)"/><rect x="7.2" y="6.3" width="39.8" height="61.4" rx="10" fill="#50f000" filter="url(#b1)"/><rect x="9.6" y="8.8" width="35.2" height="56.2" rx="9" fill="#00f4f0" filter="url(#b1)"/><rect x="14.5" y="12" width="27" height="50" rx="9" fill="#00a4ff" filter="url(#b2)"/><rect x="18" y="16" width="20" height="42" rx="8" fill="#0078f8" filter="url(#b3)"/></g><g clip-path="url(#cMid)"><rect x="45" y="-5" width="65" height="19" fill="#ffc400" fill-opacity="0.85" filter="url(#b3)"/><rect x="45" y="60.5" width="65" height="19" fill="#ffc400" fill-opacity="0.85" filter="url(#b3)"/><rect x="45" y="-5" width="65" height="9.5" fill="#ffa000" filter="url(#b15)"/><rect x="45" y="70" width="65" height="9.5" fill="#ffa000" filter="url(#b15)"/><ellipse cx="78" cy="37" rx="27" ry="22" fill="#c4f600" filter="url(#b4)"/><ellipse cx="78" cy="37" rx="21" ry="17" fill="#98f018" filter="url(#b3)"/><ellipse cx="76" cy="37" rx="10" ry="9.5" fill="#48e818" filter="url(#b3)"/></g><g clip-path="url(#cRight)"><path d="M105.7 8C106.17 8.92 107.53 11.33 108.5 13.5C109.47 15.67 110.62 18.42 111.5 21C112.38 23.58 113.28 26.42 113.8 29C114.32 31.58 114.6 34 114.6 36.5C114.6 39 114.32 41.33 113.8 44C113.28 46.67 112.38 49.83 111.5 52.5C110.62 55.17 109.47 57.75 108.5 60C107.53 62.25 106.17 65 105.7 66" stroke="#50f000" stroke-width="16" stroke-linecap="round" fill="none" filter="url(#b1)"/><path d="M105.7 8C106.17 8.92 107.53 11.33 108.5 13.5C109.47 15.67 110.62 18.42 111.5 21C112.38 23.58 113.28 26.42 113.8 29C114.32 31.58 114.6 34 114.6 36.5C114.6 39 114.32 41.33 113.8 44C113.28 46.67 112.38 49.83 111.5 52.5C110.62 55.17 109.47 57.75 108.5 60C107.53 62.25 106.17 65 105.7 66" stroke="#00f4f0" stroke-width="12.6" stroke-linecap="round" fill="none" filter="url(#b1)"/><path d="M105.7 8C106.17 8.92 107.53 11.33 108.5 13.5C109.47 15.67 110.62 18.42 111.5 21C112.38 23.58 113.28 26.42 113.8 29C114.32 31.58 114.6 34 114.6 36.5C114.6 39 114.32 41.33 113.8 44C113.28 46.67 112.38 49.83 111.5 52.5C110.62 55.17 109.47 57.75 108.5 60C107.53 62.25 106.17 65 105.7 66" stroke="#50d0ff" stroke-width="3" stroke-linecap="round" fill="none" filter="url(#b1)"/></g><g clip-path="url(#cMid)"><path d="M50.7 0C49.6 12 48.4 24 48.4 36.6C48.4 50 49.6 62 50.7 74.2" stroke="#403000" stroke-opacity="0.1152" stroke-width="17" fill="none" filter="url(#b3)"/><path d="M50.7 0C49.6 12 48.4 24 48.4 36.6C48.4 50 49.6 62 50.7 74.2" stroke="#403000" stroke-opacity="0.272" stroke-width="5" fill="none" filter="url(#b1)"/><path d="M96.8 17C97.85 18.53 101.52 22.93 103.1 26.2C104.68 29.47 106.13 32.85 106.3 36.6C106.47 40.35 105.68 44.98 104.1 48.7C102.52 52.42 98.02 57.2 96.8 58.9" stroke="#403000" stroke-opacity="0.22000000000000003" stroke-width="15" fill="none" filter="url(#b3)"/><path d="M92.3 0C92.4 1.33 92.15 5.17 92.9 8C93.65 10.83 95.1 13.97 96.8 17C98.5 20.03 101.52 22.93 103.1 26.2C104.68 29.47 106.13 32.85 106.3 36.6C106.47 40.35 105.68 44.98 104.1 48.7C102.52 52.42 98.65 55.85 96.8 58.9C94.95 61.95 93.75 64.45 93 67C92.25 69.55 92.42 73 92.3 74.2" stroke="#403000" stroke-opacity="0.38" stroke-width="6" fill="none" filter="url(#b1)"/></g><path d="M50.7 0C49.6 12 48.4 24 48.4 36.6C48.4 50 49.6 62 50.7 74.2" stroke="#403000" stroke-opacity="0.8" stroke-width="0.9" fill="none"/><path d="M92.3 0C92.4 1.33 92.15 5.17 92.9 8C93.65 10.83 95.1 13.97 96.8 17C98.5 20.03 101.52 22.93 103.1 26.2C104.68 29.47 106.13 32.85 106.3 36.6C106.47 40.35 105.68 44.98 104.1 48.7C102.52 52.42 98.65 55.85 96.8 58.9C94.95 61.95 93.75 64.45 93 67C92.25 69.55 92.42 73 92.3 74.2" stroke="#403000" stroke-opacity="0.8" stroke-width="0.9" fill="none"/></g></g>
<g transform="translate(423.2 528.8) scale(0.99 0.98)"><g clip-path="url(#cShape)"><rect x="-5" y="-5" width="140" height="90" fill="#48f428"/><g clip-path="url(#cLeft)"><rect x="-5" y="-5" width="60" height="90" fill="#f6f600"/><path d="M12 90L7.1 74.2C3 62 0 50 0 36.6C0 24 3 12 7.1 0L12 -16" stroke="#90f400" stroke-width="7" fill="none" filter="url(#b15)"/><path d="M12 90L7.1 74.2C3 62 0 50 0 36.6C0 24 3 12 7.1 0L12 -16" stroke="#00ece0" stroke-width="4" fill="none" filter="url(#b1)"/><circle cx="49" cy="1" r="5" fill="#60f000" filter="url(#b2)"/><circle cx="48" cy="72" r="6" fill="#40f040" filter="url(#b2)"/><rect x="9.5" y="4" width="39" height="62" rx="18" fill="#38f020" filter="url(#b15)"/><rect x="13" y="8" width="32" height="54" rx="15" fill="#00f4f0" filter="url(#b15)"/><ellipse cx="28.5" cy="34.5" rx="9" ry="16" fill="#0078ff" filter="url(#b3)"/><ellipse cx="28.5" cy="35" rx="4.5" ry="9" fill="#0030f8" filter="url(#b2)"/></g><g clip-path="url(#cMid)"><rect x="45" y="-4" width="65" height="12.5" fill="#00ecf8" filter="url(#b2)"/><rect x="45" y="66" width="65" height="13" fill="#00ecf8" filter="url(#b2)"/><rect x="70" y="-2" width="26" height="4" fill="#0070ff" filter="url(#b1)"/><rect x="56" y="70.5" width="40" height="5" fill="#0070ff" filter="url(#b1)"/><ellipse cx="80" cy="36" rx="20" ry="19" fill="#00fcc0" filter="url(#b5)"/></g><g clip-path="url(#cRight)"><rect x="90" y="-5" width="50" height="90" fill="#50f030"/><path d="M92.3 0C92.4 1.33 92.15 5.17 92.9 8C93.65 10.83 95.1 13.97 96.8 17C98.5 20.03 101.52 22.93 103.1 26.2C104.68 29.47 106.13 32.85 106.3 36.6C106.47 40.35 105.68 44.98 104.1 48.7C102.52 52.42 98.65 55.85 96.8 58.9C94.95 61.95 93.75 64.45 93 67C92.25 69.55 92.42 73 92.3 74.2" stroke="#d4f800" stroke-width="13" fill="none" filter="url(#b3)"/><path d="M109 -14L113.8 0L115.2 1.8C115.48 2.58 116.12 4.53 116.9 6.5C117.68 8.47 118.83 10.85 119.9 13.6C120.97 16.35 122.38 20.1 123.3 23C124.22 25.9 124.97 28.7 125.4 31C125.83 33.3 125.9 34.8 125.9 36.8C125.9 38.8 125.83 40.7 125.4 43C124.97 45.3 124.22 47.8 123.3 50.6C122.38 53.4 120.97 57.07 119.9 59.8C118.83 62.53 117.73 64.6 116.9 67C116.07 69.4 115.23 73 114.9 74.2L110 88" stroke="#00f0c8" stroke-width="11" fill="none" filter="url(#b2)"/></g><g clip-path="url(#cMid)"><path d="M50.7 0C49.6 12 48.4 24 48.4 36.6C48.4 50 49.6 62 50.7 74.2" stroke="#103000" stroke-opacity="0.1152" stroke-width="17" fill="none" filter="url(#b3)"/><path d="M50.7 0C49.6 12 48.4 24 48.4 36.6C48.4 50 49.6 62 50.7 74.2" stroke="#103000" stroke-opacity="0.272" stroke-width="5" fill="none" filter="url(#b1)"/><path d="M96.8 17C97.85 18.53 101.52 22.93 103.1 26.2C104.68 29.47 106.13 32.85 106.3 36.6C106.47 40.35 105.68 44.98 104.1 48.7C102.52 52.42 98.02 57.2 96.8 58.9" stroke="#103000" stroke-opacity="0.231" stroke-width="15" fill="none" filter="url(#b3)"/><path d="M92.3 0C92.4 1.33 92.15 5.17 92.9 8C93.65 10.83 95.1 13.97 96.8 17C98.5 20.03 101.52 22.93 103.1 26.2C104.68 29.47 106.13 32.85 106.3 36.6C106.47 40.35 105.68 44.98 104.1 48.7C102.52 52.42 98.65 55.85 96.8 58.9C94.95 61.95 93.75 64.45 93 67C92.25 69.55 92.42 73 92.3 74.2" stroke="#103000" stroke-opacity="0.39899999999999997" stroke-width="6" fill="none" filter="url(#b1)"/></g><path d="M50.7 0C49.6 12 48.4 24 48.4 36.6C48.4 50 49.6 62 50.7 74.2" stroke="#103000" stroke-opacity="0.8" stroke-width="0.9" fill="none"/><path d="M92.3 0C92.4 1.33 92.15 5.17 92.9 8C93.65 10.83 95.1 13.97 96.8 17C98.5 20.03 101.52 22.93 103.1 26.2C104.68 29.47 106.13 32.85 106.3 36.6C106.47 40.35 105.68 44.98 104.1 48.7C102.52 52.42 98.65 55.85 96.8 58.9C94.95 61.95 93.75 64.45 93 67C92.25 69.55 92.42 73 92.3 74.2" stroke="#103000" stroke-opacity="0.8" stroke-width="0.9" fill="none"/></g></g>
<g transform="translate(558.3 527.2) scale(0.99 0.98)"><g clip-path="url(#cShape)"><rect x="-5" y="-5" width="140" height="90" fill="#20ec10"/><g clip-path="url(#cLeft)"><rect x="-5" y="-5" width="60" height="90" fill="#88f008"/><ellipse cx="18" cy="36" rx="22" ry="32" fill="#ccf800" filter="url(#b5)"/><ellipse cx="13" cy="36" rx="9" ry="20" fill="#f2fe00" filter="url(#b5)"/><path d="M0 0H50.7M0 74.2H50.7" stroke="#00f0d0" stroke-width="3.2" fill="none" filter="url(#b1)"/><path d="M50.7 0C49.6 12 48.4 24 48.4 36.6C48.4 50 49.6 62 50.7 74.2" stroke="#20f0a0" stroke-width="3" fill="none" filter="url(#b1)"/><path d="M12 90L7.1 74.2C3 62 0 50 0 36.6C0 24 3 12 7.1 0L12 -16" stroke="#00f0f0" stroke-width="9" fill="none" filter="url(#b1)"/><path d="M12 90L7.1 74.2C3 62 0 50 0 36.6C0 24 3 12 7.1 0L12 -16" stroke="#0040ff" stroke-width="4" fill="none" filter="url(#b1)"/><rect x="40" y="67" width="10" height="8" fill="#00f0f0" filter="url(#b2)"/></g><g clip-path="url(#cMid)"><rect x="45" y="-4" width="65" height="16" fill="#00f0f8" filter="url(#b2)"/><rect x="45" y="63" width="65" height="16" fill="#00f0f8" filter="url(#b2)"/><rect x="45" y="-3" width="65" height="7.5" fill="#0020e8" filter="url(#b1)"/><rect x="45" y="70" width="65" height="8" fill="#0020e8" filter="url(#b1)"/></g><g clip-path="url(#cRight)"><rect x="90" y="-5" width="50" height="90" fill="#20ec5c"/></g><g clip-path="url(#cMid)"><path d="M50.7 0C49.6 12 48.4 24 48.4 36.6C48.4 50 49.6 62 50.7 74.2" stroke="#003000" stroke-opacity="0.12240000000000001" stroke-width="17" fill="none" filter="url(#b3)"/><path d="M50.7 0C49.6 12 48.4 24 48.4 36.6C48.4 50 49.6 62 50.7 74.2" stroke="#003000" stroke-opacity="0.28900000000000003" stroke-width="5" fill="none" filter="url(#b1)"/><path d="M96.8 17C97.85 18.53 101.52 22.93 103.1 26.2C104.68 29.47 106.13 32.85 106.3 36.6C106.47 40.35 105.68 44.98 104.1 48.7C102.52 52.42 98.02 57.2 96.8 58.9" stroke="#003000" stroke-opacity="0.24750000000000003" stroke-width="15" fill="none" filter="url(#b3)"/><path d="M92.3 0C92.4 1.33 92.15 5.17 92.9 8C93.65 10.83 95.1 13.97 96.8 17C98.5 20.03 101.52 22.93 103.1 26.2C104.68 29.47 106.13 32.85 106.3 36.6C106.47 40.35 105.68 44.98 104.1 48.7C102.52 52.42 98.65 55.85 96.8 58.9C94.95 61.95 93.75 64.45 93 67C92.25 69.55 92.42 73 92.3 74.2" stroke="#003000" stroke-opacity="0.4275" stroke-width="6" fill="none" filter="url(#b1)"/></g><path d="M50.7 0C49.6 12 48.4 24 48.4 36.6C48.4 50 49.6 62 50.7 74.2" stroke="#003000" stroke-opacity="0.8" stroke-width="0.9" fill="none"/><path d="M92.3 0C92.4 1.33 92.15 5.17 92.9 8C93.65 10.83 95.1 13.97 96.8 17C98.5 20.03 101.52 22.93 103.1 26.2C104.68 29.47 106.13 32.85 106.3 36.6C106.47 40.35 105.68 44.98 104.1 48.7C102.52 52.42 98.65 55.85 96.8 58.9C94.95 61.95 93.75 64.45 93 67C92.25 69.55 92.42 73 92.3 74.2" stroke="#003000" stroke-opacity="0.8" stroke-width="0.9" fill="none"/></g></g>
</svg>
</body></html>
